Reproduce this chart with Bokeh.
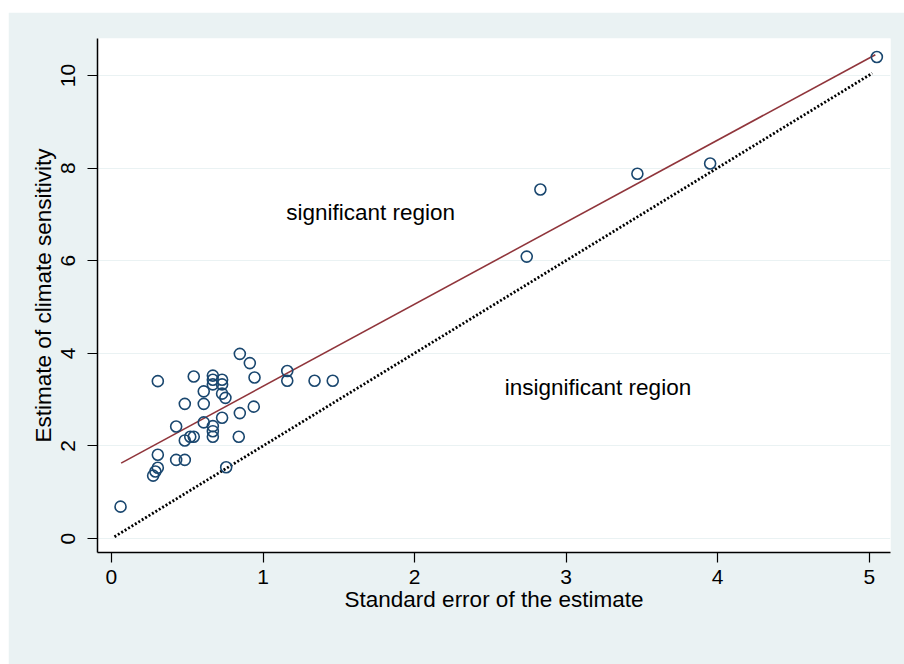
from bokeh.plotting import figure
from bokeh.models import Range1d, FixedTicker, ColumnDataSource, Spacer
from bokeh.layouts import column, row
from bokeh.embed import file_html
from bokeh.resources import INLINE
from bokeh.core.properties import value

# Standard error of the estimate (x) and estimate of climate sensitivity (y)
se = [0.06, 0.275, 0.29, 0.306, 0.306, 0.306, 0.427, 0.484, 0.427, 0.484,
      0.52, 0.543, 0.484, 0.543, 0.609, 0.609, 0.609, 0.669, 0.669, 0.669,
      0.669, 0.669, 0.669, 0.73, 0.73, 0.73, 0.752, 0.73, 0.757, 0.847,
      0.913, 0.944, 0.847, 0.939, 0.84, 1.16, 1.16, 1.34, 1.46, 2.74,
      2.83, 3.47, 3.95, 5.05]
estimate = [0.69, 1.36, 1.45, 1.53, 1.81, 3.40, 1.70, 1.70, 2.42, 2.12,
            2.20, 2.20, 2.91, 3.50, 3.18, 2.91, 2.51, 3.52, 3.43, 3.33,
            2.43, 2.32, 2.20, 3.43, 3.33, 3.13, 3.04, 2.61, 1.54, 3.99,
            3.79, 3.48, 2.71, 2.85, 2.20, 3.62, 3.41, 3.41, 3.41, 6.09,
            7.54, 7.88, 8.10, 10.40]

# fitted line and the t = 2 boundary
fit_x = [0.064, 5.04]
fit_y = [1.63, 10.45]
bound_x = [0.02, 5.02]
bound_y = [0.04, 10.05]

x_ticks = [0, 1, 2, 3, 4, 5]
y_ticks = [0, 2, 4, 6, 8, 10]

labels = ["significant region", "insignificant region"]
label_x = [1.71, 3.21]
label_y = [7.04, 3.26]

bg = "#eaf2f3"
font = "Liberation Sans"

p = figure(frame_width=793, frame_height=514,
           min_border_left=89, min_border_right=14,
           min_border_top=26, min_border_bottom=112,
           x_range=Range1d(-0.092, 5.14), y_range=Range1d(-0.30, 10.8),
           output_backend="svg", toolbar_location=None)

p.background_fill_color = "white"
p.border_fill_color = bg
p.outline_line_color = None

p.xgrid.grid_line_color = None
p.ygrid.grid_line_color = bg
p.ygrid.grid_line_width = 1.2

for ax in (p.xaxis[0], p.yaxis[0]):
    ax.axis_line_color = "black"
    ax.axis_line_width = 1.5
    ax.major_tick_line_color = "black"
    ax.major_tick_line_width = 1.2
    ax.major_tick_in = 0
    ax.major_tick_out = 10
    ax.minor_tick_line_color = None
    ax.major_label_text_font = font
    ax.major_label_text_font_size = "21px"
    ax.major_label_text_color = "black"
    ax.axis_label_text_font = font
    ax.axis_label_text_font_size = "22.5px"
    ax.axis_label_text_font_style = "normal"
    ax.axis_label_text_color = "black"

p.xaxis.ticker = FixedTicker(ticks=x_ticks)
p.yaxis.ticker = FixedTicker(ticks=y_ticks)
p.xaxis.axis_label = "Standard error of the estimate"
p.yaxis.axis_label = "Estimate of climate sensitivity"
p.xaxis.major_label_standoff = 7
p.xaxis.axis_label_standoff = 0
p.yaxis.major_label_orientation = "vertical"
p.yaxis.major_label_standoff = 12
p.yaxis.axis_label_standoff = 3

p.line(bound_x, bound_y, line_color="black", line_width=2.8, line_dash="2 2")
p.line(fit_x, fit_y, line_color="#90353b", line_width=1.6)

src = ColumnDataSource(dict(x=se, y=estimate))
p.scatter("x", "y", source=src, size=11, marker="circle",
          fill_color=None, line_color="#1a476f", line_width=1.6)

p.text(label_x, label_y, text=labels, text_font=value(font),
       text_font_size="22.5px", text_color="black",
       text_align="center", text_baseline="middle")

layout = column(Spacer(height=12), row(Spacer(width=8), p))
open("out.html", "w").write(file_html(layout, INLINE))
